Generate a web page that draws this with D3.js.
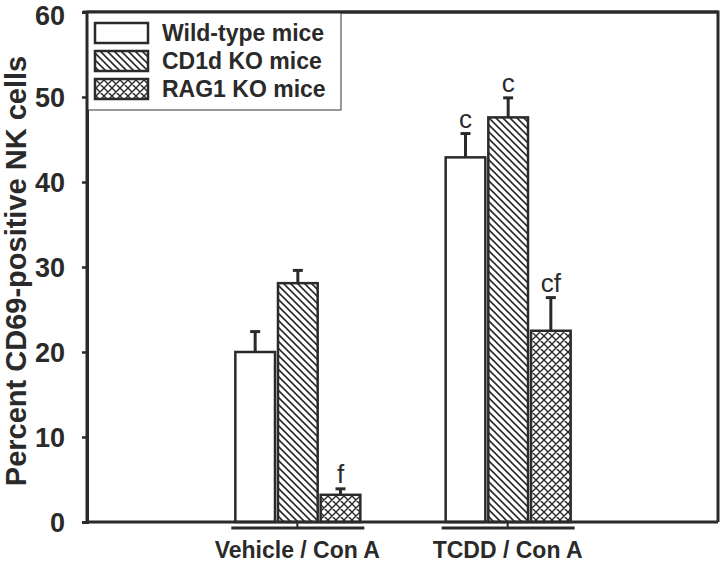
<!DOCTYPE html>
<html><head><meta charset="utf-8">
<script src="https://cdn.jsdelivr.net/npm/d3@7"></script>
<style>html,body{margin:0;padding:0;background:#fff;}</style>
</head><body>
<script>
const categories = ["Vehicle / Con A", "TCDD / Con A"];
const seriesNames = ["Wild-type mice", "CD1d KO mice", "RAG1 KO mice"];
const wildType = [20.0, 42.9];
const wildTypeErr = [2.4, 2.8];
const cd1d = [28.1, 47.6];
const cd1dErr = [1.5, 2.3];
const rag1 = [3.2, 22.5];
const rag1Err = [0.7, 3.9];
const wildTypeSig = ["", "c"];
const cd1dSig = ["", "c"];
const rag1Sig = ["f", "cf"];
const yTicks = [0, 10, 20, 30, 40, 50, 60];
const yTitle = "Percent CD69-positive NK cells";

const W = 720, H = 562;
const ink = "#2a2a2a";
const font = "Liberation Sans, Arial, sans-serif";
const L = 87, R = 718, T = 12, B = 522;

const svg = d3.select("body").append("svg").attr("width", W).attr("height", H);
const defs = svg.append("defs");
const hatch = defs.append("pattern").attr("id", "hatch").attr("patternUnits", "userSpaceOnUse")
  .attr("width", 7).attr("height", 7);
hatch.append("rect").attr("width", 7).attr("height", 7).attr("fill", "#fff");
hatch.append("path").attr("d", "M0,0L7,7M-2,5L2,9M5,-2L9,2").attr("stroke", ink).attr("stroke-width", 1.6);
const cross = defs.append("pattern").attr("id", "cross").attr("patternUnits", "userSpaceOnUse")
  .attr("width", 8).attr("height", 8);
cross.append("rect").attr("width", 8).attr("height", 8).attr("fill", "#fff");
cross.append("path").attr("d", "M0,0L8,8M-2,6L2,10M6,-2L10,2M8,0L0,8M-2,2L2,-2M6,10L10,6").attr("stroke", ink).attr("stroke-width", 1.4);

const fills = ["#fff", "url(#hatch)", "url(#cross)"];
const series = [
  {name: seriesNames[0], vals: wildType, errs: wildTypeErr, sig: wildTypeSig, fill: fills[0]},
  {name: seriesNames[1], vals: cd1d, errs: cd1dErr, sig: cd1dSig, fill: fills[1]},
  {name: seriesNames[2], vals: rag1, errs: rag1Err, sig: rag1Sig, fill: fills[2]}
];

const y = d3.scaleLinear().domain([0, 60]).range([B, T]);
const x0 = d3.scalePoint().domain(categories).range([L, R]).padding(1);
const x1 = d3.scaleBand().domain(seriesNames).range([-62, 63]).paddingInner(0.07);

// bars
series.forEach(s => {
  const g = svg.append("g");
  categories.forEach((c, i) => {
    const bx = x0(c) + x1(s.name);
    const bw = x1.bandwidth();
    g.append("rect").attr("x", bx).attr("y", y(s.vals[i])).attr("width", bw)
      .attr("height", y(0) - y(s.vals[i])).attr("fill", s.fill).attr("stroke", ink).attr("stroke-width", 2.5);
    const cx = bx + bw / 2;
    const top = y(s.vals[i] + s.errs[i]);
    g.append("line").attr("x1", cx).attr("x2", cx).attr("y1", y(s.vals[i])).attr("y2", top)
      .attr("stroke", ink).attr("stroke-width", 3);
    g.append("line").attr("x1", cx - 5).attr("x2", cx + 5).attr("y1", top).attr("y2", top)
      .attr("stroke", ink).attr("stroke-width", 3);
    if (s.sig[i]) {
      g.append("text").attr("x", cx).attr("y", top - 6).attr("text-anchor", "middle")
        .attr("font-family", font).attr("font-size", 26)
        .attr("fill", ink).text(s.sig[i]);
    }
  });
});

// frame
svg.append("path").attr("d", `M${L},${T}H${R}V${B}`).attr("fill", "none").attr("stroke", ink).attr("stroke-width", 3);
svg.append("line").attr("x1", L).attr("x2", R).attr("y1", B).attr("y2", B).attr("stroke", ink).attr("stroke-width", 3);

// y axis
const yAxis = d3.axisLeft(y).tickValues(yTicks).tickSize(5).tickPadding(17);
const ya = svg.append("g").attr("transform", `translate(${L},0)`).call(yAxis);
ya.select(".domain").attr("stroke", ink).attr("stroke-width", 3);
ya.selectAll(".tick line").attr("stroke", ink).attr("stroke-width", 2.5);
ya.selectAll(".tick text").attr("fill", ink).attr("font-family", font)
  .attr("font-size", 27).attr("font-weight", "bold")
  .attr("dy", d => d === 60 ? "0.46em" : "0.36em");

svg.append("text").attr("transform", `translate(26,${(T + B) / 2 + 4}) rotate(-90)`)
  .attr("text-anchor", "middle")
  .attr("font-family", font).attr("font-size", 29).attr("font-weight", "bold")
  .attr("fill", ink).text(yTitle);

// category brackets and labels
categories.forEach(c => {
  const cx = x0(c);
  svg.append("line").attr("x1", cx - 66).attr("x2", cx + 67).attr("y1", B + 6).attr("y2", B + 6)
    .attr("stroke", ink).attr("stroke-width", 3);
  svg.append("line").attr("x1", cx).attr("x2", cx).attr("y1", B).attr("y2", B + 6)
    .attr("stroke", ink).attr("stroke-width", 2);
  svg.append("text").attr("x", cx).attr("y", 558).attr("text-anchor", "middle")
    .attr("font-family", font).attr("font-size", 23).attr("font-weight", "bold")
    .attr("fill", ink).text(c);
});

// legend
const lg = svg.append("g");
lg.append("rect").attr("x", L).attr("y", T).attr("width", 254).attr("height", 98)
  .attr("fill", "#fff").attr("stroke", "#555").attr("stroke-width", 1.2);
series.forEach((s, i) => {
  const ry = 23 + i * 28;
  lg.append("rect").attr("x", 95).attr("y", ry).attr("width", 53).attr("height", 20)
    .attr("fill", s.fill).attr("stroke", ink).attr("stroke-width", 2.5);
  lg.append("text").attr("x", 162).attr("y", ry + 18)
    .attr("font-family", font).attr("font-size", 23).attr("font-weight", "bold")
    .attr("fill", ink).text(s.name);
});
svg.append("line").attr("x1", L - 4).attr("x2", R).attr("y1", T).attr("y2", T).attr("stroke", ink).attr("stroke-width", 3);
svg.append("line").attr("x1", L).attr("x2", L).attr("y1", T).attr("y2", B).attr("stroke", ink).attr("stroke-width", 3);
</script>
</body></html>
